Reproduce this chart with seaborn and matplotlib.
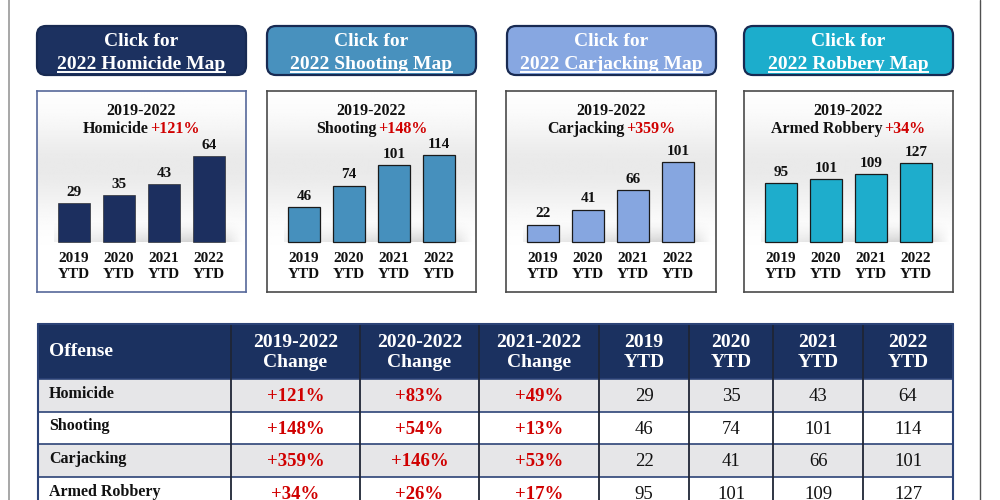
import numpy as np
import pandas as pd
import matplotlib
matplotlib.use("Agg")
import matplotlib.pyplot as plt
import seaborn as sns
from matplotlib.patches import FancyBboxPatch, Rectangle

# --- datos ---
delitos = ["Homicide", "Shooting", "Carjacking", "Armed Robbery"]
mapas = ["Homicide", "Shooting", "Carjacking", "Robbery"]
anios = ["2019", "2020", "2021", "2022"]
homicide = [29, 35, 43, 64]
shooting = [46, 74, 101, 114]
carjacking = [22, 41, 66, 101]
armed_robbery = [95, 101, 109, 127]
cambio_19_22 = ["+121%", "+148%", "+359%", "+34%"]
cambio_20_22 = ["+83%", "+54%", "+146%", "+26%"]
cambio_21_22 = ["+49%", "+13%", "+53%", "+17%"]

series = [homicide, shooting, carjacking, armed_robbery]

# --- estilo ---
colores = ["#1c2f5f", "#4690bd", "#86a6e0", "#1eadcc"]
botones = ["#1c3160", "#4891be", "#87a7e1", "#1cadcc"]
bordes_panel = ["#56689a", "#4a4a4a", "#4a4a4a", "#4a4a4a"]
rojo = "#d00000"
navy = "#1b3160"

sns.set_style("white")
plt.rcParams["font.family"] = ["Liberation Serif", "DejaVu Serif"]
plt.rcParams["font.weight"] = "bold"

W, H = 1000, 500
fig = plt.figure(figsize=(10, 5), dpi=100)
fig.patch.set_facecolor("white")

# eje de fondo en pixeles (y hacia abajo)
bg = fig.add_axes([0, 0, 1, 1])
bg.set_xlim(0, W)
bg.set_ylim(H, 0)
bg.axis("off")


def px_axes(x0, y0, x1, y1):
    return fig.add_axes([x0 / W, 1 - y1 / H, (x1 - x0) / W, (y1 - y0) / H])


# lineas del marco exterior
bg.plot([9, 9], [0, H], color="#a0a0a0", lw=1.3)
bg.plot([980, 980], [0, H], color="#505050", lw=1.0)

# 1. Botones "Click for ..."
cols_x = [(37, 246), (267, 476), (507, 716), (744, 953)]
textos_link = []
for i, (x0, x1) in enumerate(cols_x):
    bg.add_patch(FancyBboxPatch((x0 + 5, 31), x1 - x0 - 10, 39,
                                boxstyle="round,pad=5,rounding_size=9",
                                fc=botones[i], ec="#182a52", lw=1.6, zorder=2))
    cx = (x0 + x1) / 2
    bg.text(cx, 46.5, "Click for", ha="center", va="baseline", color="white",
            fontsize=14, zorder=3)
    t = bg.text(cx, 69, f"2022 {mapas[i]} Map", ha="center", va="baseline",
                color="white", fontsize=14, zorder=3)
    textos_link.append(t)

# 2. Mini graficos de barras
panel_x = [(37, 246), (267, 476), (506, 716), (744, 953)]
alto_barra = [86, 87, 80, 79]
titulos_2 = []

grad_t = np.linspace(0, 1, 200)
grad = 1 - 0.085 * np.exp(-((grad_t - 0.38) / 0.22) ** 2)
grad = grad[:, None]

for i, (x0, x1) in enumerate(panel_x):
    ax = px_axes(x0, 91, x1, 292)
    vals = series[i]
    k = max(vals) / alto_barra[i]

    ax.imshow(grad, extent=[0, 1, 0, 1], transform=ax.transAxes, aspect="auto",
              cmap="gray", vmin=0, vmax=1, zorder=0)

    # sombra suave detras de las barras
    sy = np.linspace(0, 1, 40)[:, None]
    sx = np.linspace(0, 1, 120)[None, :]
    alfa = 0.30 * (sy ** 1.5) * np.clip(0.35 + 0.9 * sx, 0, 1) * np.clip((1 - sx) / 0.12, 0, 1)
    sombra = np.zeros((40, 120, 4))
    sombra[..., :3] = 0.45
    sombra[..., 3] = alfa
    ax.imshow(sombra, extent=[-0.45, 3.75, 0, 22 * k], origin="upper",
              aspect="auto", zorder=1)

    df = pd.DataFrame({"anio": anios, "valor": vals})
    sns.barplot(data=df, x="anio", y="valor", order=anios, color=colores[i],
                saturation=1, width=0.72, edgecolor="#1a1a1a",
                linewidth=0.9 if i > 0 else 0.4, ax=ax, zorder=3)

    ax.set_xlim(-37 / 45, (x1 - x0 - 37) / 45)
    ax.set_ylim(-50 * k, 151 * k)
    ax.set_xticks([])
    ax.set_yticks([])
    ax.set_xlabel("")
    ax.set_ylabel("")
    for sp in ax.spines.values():
        sp.set_visible(True)
        sp.set_color(bordes_panel[i])
        sp.set_linewidth(1.2)

    for j, v in enumerate(vals):
        ax.annotate(str(v), (j, v), xytext=(0, 3), textcoords="offset points",
                    ha="center", va="bottom", fontsize=11, color="#111111", zorder=5)
        ax.annotate(f"{anios[j]}\nYTD", (j, 0), xytext=(0, -7),
                    textcoords="offset points", ha="center", va="top",
                    fontsize=11, linespacing=1.32, color="#111111", zorder=5)

    ax.text(0.5, 0.90, "2019-2022", transform=ax.transAxes, ha="center",
            va="center", fontsize=11.5, color="#111111")
    t1 = ax.text(0.5, 0.81, delitos[i], transform=ax.transAxes, ha="left",
                 va="center", fontsize=11.5, color="#111111")
    t2 = ax.annotate(cambio_19_22[i], xy=(1, 0), xycoords=t1, xytext=(1.2, 0),
                     textcoords="offset points", ha="left", va="bottom",
                     fontsize=11.5, color=rojo)
    titulos_2.append((ax, t1, t2))

# 3. Tabla resumen
col_edges = [38, 231, 360, 479, 599, 689, 773, 863, 953]
row_edges = [379, 411.7, 444.3, 477, 509.7]
encabezados = ["Offense", "2019-2022\nChange", "2020-2022\nChange",
               "2021-2022\nChange", "2019\nYTD", "2020\nYTD", "2021\nYTD", "2022\nYTD"]

bg.add_patch(Rectangle((38, 324), 953 - 38, 379 - 324, fc=navy, ec="none", zorder=2))
for r in range(4):
    fondo = "#e6e6e8" if r % 2 == 0 else "white"
    bg.add_patch(Rectangle((38, row_edges[r]), 953 - 38, row_edges[r + 1] - row_edges[r],
                           fc=fondo, ec="none", zorder=2))

for c, txt in enumerate(encabezados):
    if c == 0:
        bg.text(49, 352, txt, ha="left", va="center", color="white", fontsize=14, zorder=4)
    else:
        cx = (col_edges[c] + col_edges[c + 1]) / 2
        bg.text(cx, 352.5, txt, ha="center", va="center", color="white",
                fontsize=14, linespacing=1.25, zorder=4)

for r in range(4):
    cy = (row_edges[r] + row_edges[r + 1]) / 2
    bg.text(49, cy - 1.5, delitos[r], ha="left", va="center", fontsize=11.5,
            color="#111111", zorder=4)
    cambios = [cambio_19_22[r], cambio_20_22[r], cambio_21_22[r]]
    for c, txt in enumerate(cambios):
        cx = (col_edges[c + 1] + col_edges[c + 2]) / 2
        bg.text(cx, cy + 1, txt, ha="center", va="center", fontsize=13.5,
                color=rojo, zorder=4)
    for c, v in enumerate(series[r]):
        cx = (col_edges[c + 4] + col_edges[c + 5]) / 2
        bg.text(cx, cy + 1, str(v), ha="center", va="center", fontsize=13.5,
                fontweight="normal", color="#111111", zorder=4)

# lineas de la tabla
for y in row_edges[:-1]:
    bg.plot([38, 953], [y, y], color="#2c4377", lw=1.2, zorder=3)
for x in col_edges[1:-1]:
    bg.plot([x, x], [324, H], color="#1f2535", lw=1.3, zorder=3)
bg.plot([38, 38], [324, H], color="#2c4377", lw=1.5, zorder=3)
bg.plot([953, 953], [324, H], color="#2c4377", lw=1.5, zorder=3)
bg.plot([38, 953], [324, 324], color="#2c4377", lw=1.5, zorder=3)

# ajustes que necesitan el renderer: centrar titulos bicolor y subrayar enlaces
fig.canvas.draw()
r = fig.canvas.get_renderer()
for ax, t1, t2 in titulos_2:
    w1 = t1.get_window_extent(r).width
    w2 = t2.get_window_extent(r).width + 1.2 * 100 / 72
    ancho_ax = ax.get_window_extent(r).width
    t1.set_x(0.5 - (w1 + w2) / 2 / ancho_ax)

for t in textos_link:
    bb = t.get_window_extent(r)
    bg.plot([bb.x0, bb.x1], [71.5, 71.5], color="white", lw=1.4, zorder=3,
            solid_capstyle="butt")

fig.savefig("out.png", dpi=100)
